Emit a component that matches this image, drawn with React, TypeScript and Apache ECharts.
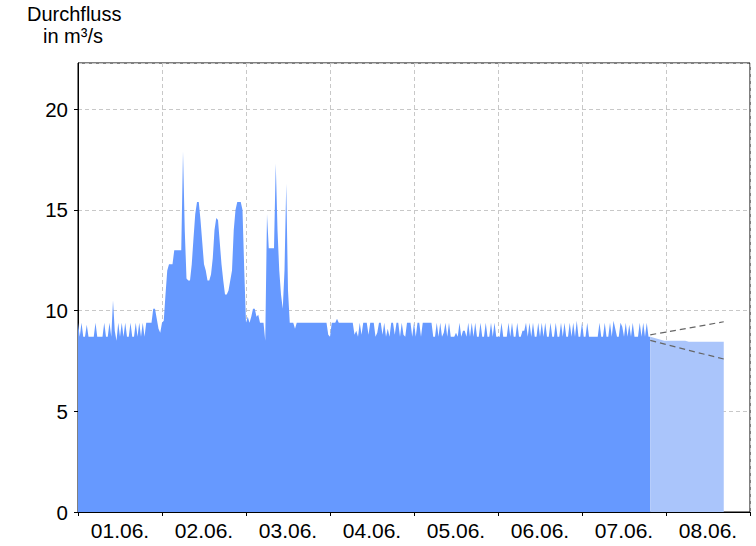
import React, { useEffect, useRef } from 'react';
import * as echarts from 'echarts';

const dayLabels = ['01.06.', '02.06.', '03.06.', '04.06.', '05.06.', '06.06.', '07.06.', '08.06.'];
const yTickValues = [0, 5, 10, 15, 20];
const stepHours = 0.5; // measured values every 30 minutes, starting 01.06. 00:00

const day1 = [9.4, 8.7, 9.4, 8.7, 8.7, 9.3, 8.7, 8.7, 8.7, 8.7, 9.4, 8.7, 8.7, 8.7, 8.7, 9.4, 8.7, 8.7, 9.4, 8.7, 10.5, 9.0, 8.5, 9.4, 8.7, 9.4, 8.7, 9.4, 8.7, 8.7, 9.4, 8.7, 8.7, 9.4, 8.7, 9.4, 8.7, 9.4, 8.7, 9.4, 9.4, 9.4, 9.4, 10.1, 10.1, 9.6, 9.1, 8.9];
const day2 = [9.4, 9.5, 10.8, 12.0, 12.3, 12.3, 12.3, 13.0, 13.0, 13.0, 13.0, 13.0, 17.9, 14.0, 11.6, 11.5, 11.5, 12.3, 13.6, 14.8, 15.4, 15.4, 14.5, 13.4, 12.3, 12.0, 11.5, 11.5, 11.8, 12.6, 14.0, 14.6, 14.5, 13.4, 12.3, 11.5, 10.8, 10.8, 11.0, 11.5, 12.0, 14.0, 15.0, 15.4, 15.4, 15.4, 15.0, 12.0];
const day3 = [9.4, 9.7, 9.4, 9.7, 10.1, 10.1, 9.7, 9.8, 9.4, 9.4, 9.4, 8.5, 14.8, 13.1, 13.1, 13.1, 13.1, 17.3, 14.0, 12.0, 10.8, 10.1, 12.0, 16.3, 11.0, 9.4, 9.4, 9.4, 9.1, 9.4, 9.4, 9.4, 9.4, 9.4, 9.4, 9.4, 9.4, 9.4, 9.4, 9.4, 9.4, 9.4, 9.4, 9.4, 9.4, 9.4, 9.4, 8.8];
const day4 = [8.7, 9.4, 9.4, 9.4, 9.6, 9.4, 9.4, 9.4, 9.4, 9.4, 9.4, 9.4, 9.4, 9.4, 8.8, 9.0, 8.7, 9.4, 8.8, 9.4, 9.4, 9.4, 8.8, 9.4, 9.4, 9.4, 8.7, 8.9, 9.4, 9.4, 8.8, 9.4, 8.7, 9.1, 8.7, 9.4, 9.4, 8.8, 9.4, 9.4, 8.7, 9.4, 8.8, 8.7, 9.4, 9.4, 9.4, 8.7];
const day5 = [9.4, 8.7, 9.4, 9.4, 8.7, 9.4, 9.4, 9.4, 9.4, 9.4, 9.4, 8.7, 8.7, 9.4, 8.7, 9.4, 8.7, 8.9, 9.4, 8.7, 9.4, 8.7, 8.7, 8.7, 8.9, 8.7, 9.4, 8.7, 9.0, 9.0, 8.7, 9.4, 8.7, 9.4, 8.7, 9.4, 8.7, 8.7, 9.4, 8.7, 8.7, 9.4, 8.7, 8.7, 9.4, 8.7, 9.4, 8.7];
const day6 = [8.7, 8.7, 9.4, 8.7, 8.7, 8.7, 9.4, 8.7, 9.4, 8.7, 8.7, 9.4, 8.7, 8.7, 9.0, 9.0, 9.4, 8.7, 9.4, 8.7, 9.4, 8.7, 8.7, 9.4, 8.7, 9.4, 8.7, 9.4, 8.7, 8.7, 9.4, 8.7, 8.7, 9.4, 8.7, 8.7, 9.4, 8.7, 9.4, 8.7, 8.7, 9.4, 8.7, 9.4, 8.7, 9.5, 8.7, 8.7];
const day7 = [9.4, 8.7, 8.7, 9.4, 8.7, 8.7, 8.7, 8.7, 8.7, 8.7, 9.4, 8.7, 8.7, 9.4, 8.7, 8.7, 9.4, 8.7, 9.5, 9.1, 8.7, 8.7, 9.4, 9.2, 8.7, 9.4, 8.7, 9.3, 8.7, 9.4, 8.7, 8.7, 8.7, 9.4, 8.7, 9.4, 8.7, 9.4, 8.7, 8.7];

const forecastStartHour = 163.5; // 07.06. 19:30
const forecastStepHours = 1;
const forecastValues = [8.7, 8.65, 8.6, 8.55, 8.5, 8.5, 8.5, 8.5, 8.5, 8.5, 8.5, 8.45, 8.45, 8.45, 8.45, 8.45, 8.45, 8.45, 8.45, 8.45, 8.45, 8.45];

const bandHours = [163.5, 174, 184.5];
const upperBand = [8.8, 9.12, 9.45];
const lowerBand = [8.52, 8.05, 7.6];

const FONT = '"Liberation Sans", Arial, Helvetica, sans-serif';

export default function App() {
  const ref = useRef<HTMLDivElement>(null);

  useEffect(() => {
    document.body.style.margin = '0';
    document.body.style.overflow = 'hidden';
    const chart = echarts.init(ref.current!, null, { renderer: 'svg' });

    const measuredValues = [...day1, ...day2, ...day3, ...day4, ...day5, ...day6, ...day7];
    const measured = measuredValues.map((v, i) => [i * stepHours, v]);
    const forecast = forecastValues.map((v, i) => [forecastStartHour + i * forecastStepHours, v]);
    const upper = upperBand.map((v, i) => [bandHours[i], v]);
    const lower = lowerBand.map((v, i) => [bandHours[i], v]);

    const gridLine = { show: true, lineStyle: { color: '#c8c8c8', width: 1, type: [4, 3] as any } };

    chart.setOption({
      animation: false,
      backgroundColor: '#fff',
      graphic: [
        { type: 'text', left: 27, top: 4, style: { text: 'Durchfluss', font: `20px ${FONT}`, fill: '#000' } },
        { type: 'text', left: 43, top: 26, style: { text: 'in m³/s', font: `20px ${FONT}`, fill: '#000' } },
      ],
      grid: { left: 78, right: 6, top: 63, bottom: 34, show: true, borderColor: '#000', borderWidth: 1, backgroundColor: 'transparent' },
      xAxis: [
        {
          type: 'value', min: 0, max: 192, interval: 24, position: 'bottom',
          axisLine: { show: true, onZero: false, lineStyle: { color: '#000', width: 1 } },
          axisTick: { show: true, length: 4, lineStyle: { color: '#000' } },
          axisLabel: { show: false },
          splitLine: gridLine,
        },
        {
          type: 'category', data: dayLabels, position: 'bottom', boundaryGap: true,
          axisLine: { show: false }, axisTick: { show: false }, splitLine: { show: false },
          axisLabel: { fontSize: 21, color: '#000', fontFamily: FONT, margin: 8 },
        },
      ],
      yAxis: {
        type: 'value', min: 0, max: 22.3, interval: 5,
        axisLine: { show: true, lineStyle: { color: '#000', width: 1 } },
        axisTick: { show: true, length: 4, lineStyle: { color: '#000' } },
        axisLabel: {
          fontSize: 20.5, color: '#000', fontFamily: FONT, margin: 10, showMaxLabel: false,
          formatter: (v: number) => (yTickValues.includes(v) ? String(v) : ''),
        },
        splitLine: gridLine,
      },
      series: [
        {
          type: 'line', xAxisIndex: 0, data: measured, showSymbol: false, symbol: 'none',
          lineStyle: { width: 0 }, areaStyle: { color: '#6699ff', opacity: 1 }, z: 2,
        },
        {
          type: 'line', xAxisIndex: 0, data: forecast, showSymbol: false, symbol: 'none',
          lineStyle: { width: 0 }, areaStyle: { color: '#aac5fb', opacity: 1 }, z: 2,
        },
        {
          type: 'line', xAxisIndex: 0, data: upper, showSymbol: false, symbol: 'none',
          lineStyle: { color: '#666', width: 1.2, type: [6, 4] }, z: 3,
        },
        {
          type: 'line', xAxisIndex: 0, data: lower, showSymbol: false, symbol: 'none',
          lineStyle: { color: '#666', width: 1.2, type: [6, 4] }, z: 3,
        },
      ],
    });

    return () => chart.dispose();
  }, []);

  return <div ref={ref} style={{ width: 756, height: 546 }} />;
}
